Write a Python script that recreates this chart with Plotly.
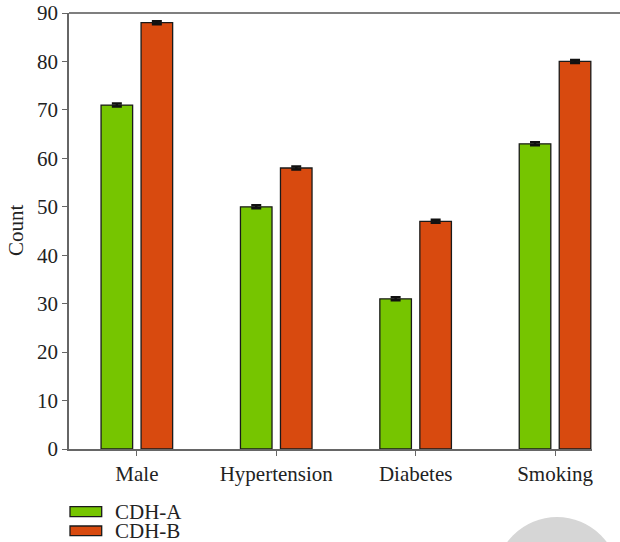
import plotly.graph_objects as go

categories = ["Male", "Hypertension", "Diabetes", "Smoking"]
cdh_a = [71, 50, 31, 63]
cdh_b = [88, 58, 47, 80]
err_a = [0.3, 0.3, 0.3, 0.3]
err_b = [0.3, 0.3, 0.3, 0.3]
series_names = ["CDH-A", "CDH-B"]
colors = ["#76C500", "#D84A0F"]

W, H = 620, 542
L, T = 69, 13
PR, PB = 592, 449
pw, ph = PR - L, PB - T
R, B = W - PR, H - PB

def px(x):  # pixel -> paper x
    return (x - L) / pw

def py(y):  # pixel -> paper y
    return (PB - y) / ph

FONT = "Liberation Serif"
FS = 21
TXT = "#222222"

fig = go.Figure()
for name, vals, errs, col, off in [
    (series_names[0], cdh_a, err_a, colors[0], -0.257),
    (series_names[1], cdh_b, err_b, colors[1], 0.030),
]:
    fig.add_trace(go.Bar(
        x=categories, y=vals, name=name,
        width=0.2265, offset=off,
        marker=dict(color=col, line=dict(color="#1a1a1a", width=1.3)),
        error_y=dict(type="data", array=errs, visible=True,
                     color="#111111", thickness=2.5, width=5),
        showlegend=False,
    ))

shapes = [
    dict(type="line", xref="paper", yref="paper", x0=0, x1=px(621), y0=1, y1=1,
         line=dict(color="#555555", width=1.5)),
    dict(type="circle", xref="paper", yref="paper",
         x0=px(557 - 62), x1=px(557 + 62), y0=py(579 + 62), y1=py(579 - 62),
         fillcolor="#d6d6d6", line=dict(width=0), layer="below"),
]
annotations = [
    dict(xref="paper", yref="paper", x=px(16), y=py(230), text="Count",
         textangle=-90, showarrow=False, xanchor="center", yanchor="middle",
         font=dict(family=FONT, size=FS, color=TXT)),
]
legend_rows = [(506.7, 516.7), (526, 535.7)]
for (y0, y1), name, col in zip(legend_rows, series_names, colors):
    shapes.append(dict(type="rect", xref="paper", yref="paper",
                       x0=px(70), x1=px(101.7), y0=py(y1), y1=py(y0),
                       fillcolor=col, line=dict(color="#1a1a1a", width=1.3)))
    annotations.append(dict(xref="paper", yref="paper", x=px(113), y=py((y0 + y1) / 2),
                            text=name, showarrow=False, xanchor="left", yanchor="middle",
                            height=18,
                            font=dict(family=FONT, size=FS, color=TXT)))

axis_common = dict(showline=True, linecolor="#666666", linewidth=1.5,
                   ticks="outside", ticklen=5, tickcolor="#666666", tickwidth=1.2,
                   showgrid=False, zeroline=False, automargin=False,
                   tickfont=dict(family=FONT, size=FS, color=TXT))

fig.update_layout(
    width=W, height=H,
    margin=dict(l=L, r=R, t=T, b=B, pad=0),
    paper_bgcolor="white", plot_bgcolor="white",
    barmode="overlay",
    font=dict(family=FONT, size=FS, color=TXT),
    shapes=shapes, annotations=annotations,
    xaxis=dict(range=[-0.487, 3.265], **axis_common),
    yaxis=dict(range=[0, 90], dtick=10, **axis_common),
)

fig.write_html("out.html",
               config={"displayModeBar": False},
               post_script="document.body.style.margin='0';document.body.style.overflow='hidden';")
